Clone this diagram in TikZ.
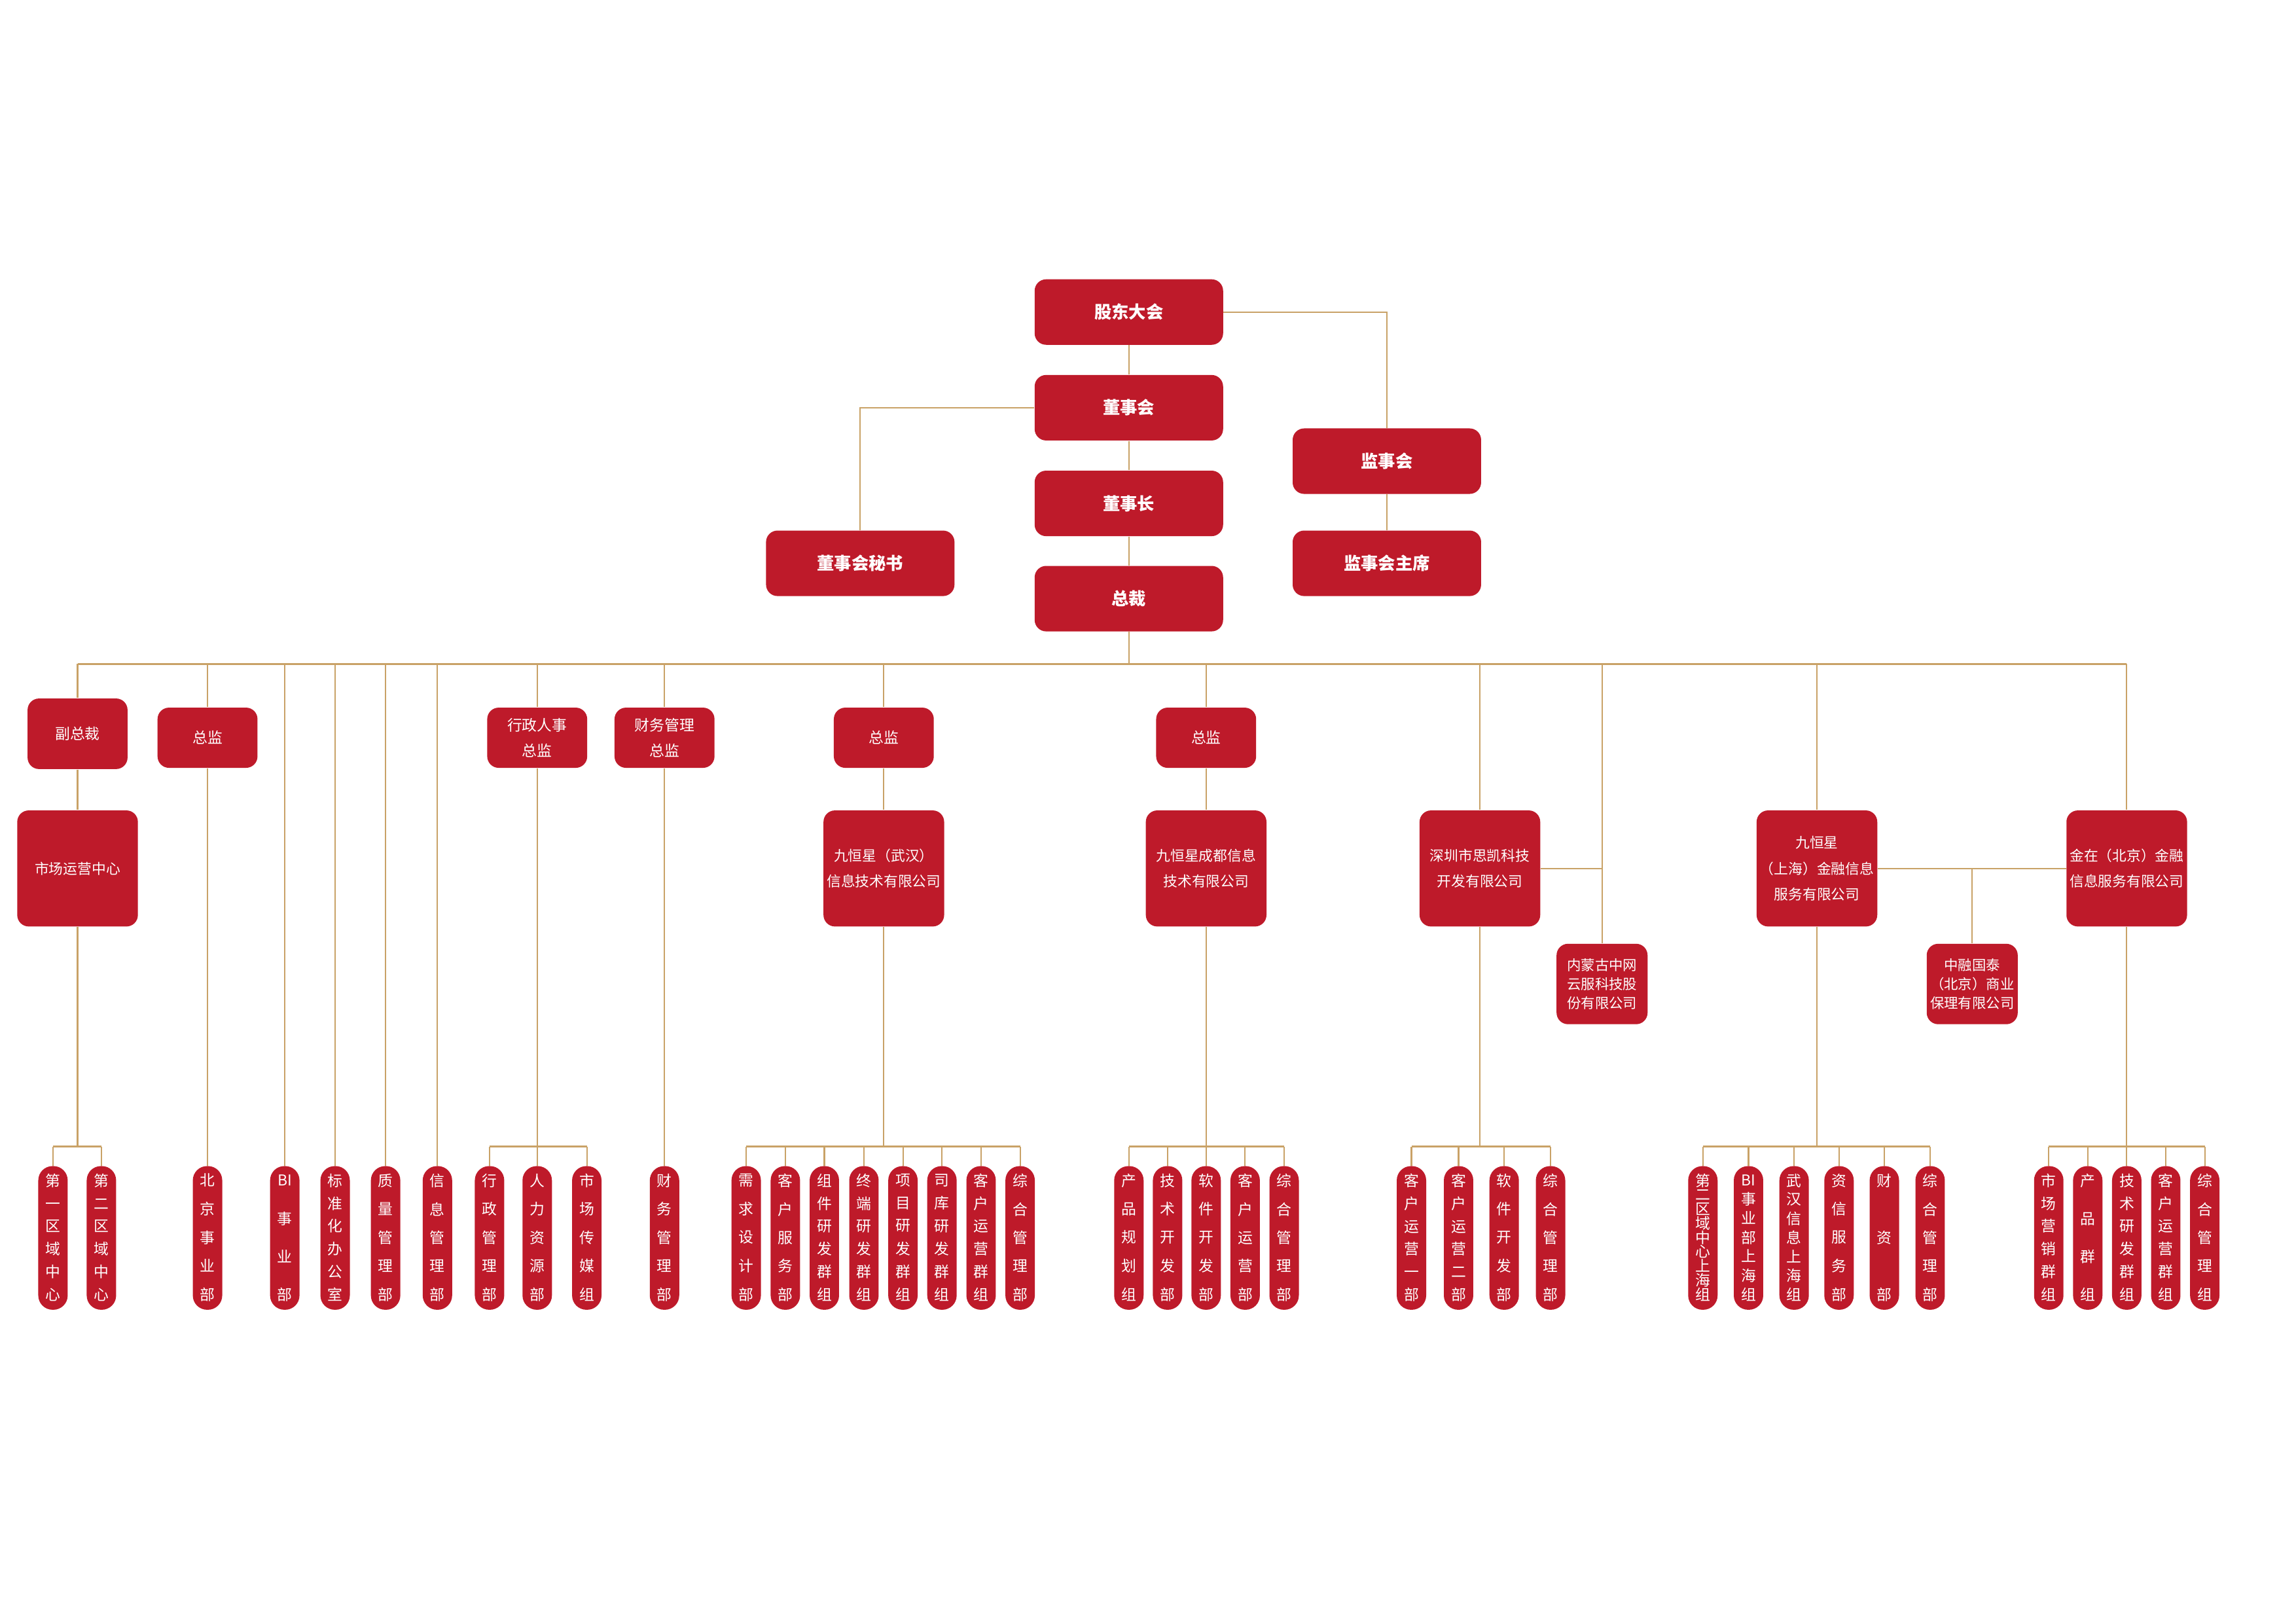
\documentclass[tikz,border=0pt]{standalone}
\usepackage{fontspec}
\setmainfont{Noto Sans CJK SC}
\definecolor{orgred}{HTML}{BE1A2A}
\definecolor{orgline}{HTML}{C9A267}
\newcommand\vtxt[1]{\vbox to 55pt{\offinterlineskip
    \foreach \zi [count=\idx] in {#1}{\ifnum\idx>1 \vfill\fi
      \hbox to 11pt{\hss\vrule width 0pt height 5.3pt depth 0.8pt\zi\hss}}}}
\tikzset{
    box/.style={rectangle,rounded corners=5pt,fill=orgred,text=white,inner sep=0pt,align=center},
    topbox/.style={box,minimum width=82pt,minimum height=28.5pt,font=\fontsize{7.5}{9}\selectfont\bfseries},
    midbox/.style={box,minimum width=43.5pt,minimum height=26.2pt,font=\fontsize{6.5}{11}\selectfont},
    cobox/.style={box,minimum width=52.5pt,minimum height=50.5pt,font=\fontsize{6.2}{11.3}\selectfont},
    smallbox/.style={box,minimum width=39.6pt,minimum height=35pt,font=\fontsize{6.1}{8.2}\selectfont},
    pill/.style={box,rounded corners=6.2pt,minimum width=12.8pt,minimum height=62.5pt,font=\fontsize{6.5}{7}\selectfont},
    link/.style={draw=orgline,line width=0.6pt},
    bar/.style={draw=orgline,line width=0.9pt},
}
\begin{document}
\begin{tikzpicture}[x=0.0225cm,y=-0.0225cm]
    \useasboundingbox (0,0) rectangle (1560,1103);
    \coordinate (bus) at (0,451);
    \coordinate (low) at (0,779);

    \node[topbox] (gd) at (767,212) {股东大会};
    \node[topbox] (dsh) at (767,277) {董事会};
    \node[topbox] (dsz) at (767,342) {董事长};
    \node[topbox] (zc) at (767,406.7) {总裁};
    \node[topbox] (jsh) at (942.3,313.3) {监事会};
    \node[topbox] (jszx) at (942.3,382.7) {监事会主席};
    \node[topbox] (mishu) at (584.5,382.7) {董事会秘书};

    \node[midbox,minimum height=30.7pt] (fzc) at (52.7,498.5) {副总裁};
    \node[midbox] (zj1) at (141,501.2) {总监};
    \node[midbox] (xzzj) at (365,501.2) {行政人事\\总监};
    \node[midbox] (cwzj) at (451.5,501.2) {财务管理\\总监};
    \node[midbox] (zj2) at (600.5,501.2) {总监};
    \node[midbox] (zj3) at (819.5,501.2) {总监};

    \node[cobox] (scyy) at (52.7,590) {市场运营中心};
    \node[cobox] (wh) at (600.5,590) {九恒星（武汉）\\信息技术有限公司};
    \node[cobox] (cd) at (819.5,590) {九恒星成都信息\\技术有限公司};
    \node[cobox] (sz) at (1005.5,590) {深圳市思凯科技\\开发有限公司};
    \node[cobox] (sh) at (1234.5,590) {九恒星\\（上海）金融信息\\服务有限公司};
    \node[cobox] (jz) at (1445,590) {金在（北京）金融\\信息服务有限公司};
    \node[smallbox] (nmg) at (1088.5,668.5) {内蒙古中网\\云服科技股\\份有限公司};
    \node[smallbox] (zr) at (1340,668.5) {中融国泰\\（北京）商业\\保理有限公司};

    \node[pill] (a1) at (36,841) {\vtxt{第,一,区,域,中,心}};
    \node[pill] (a2) at (68.9,841) {\vtxt{第,二,区,域,中,心}};
    \node[pill] (bj) at (141,841) {\vtxt{北,京,事,业,部}};
    \node[pill] (bi) at (193.5,841) {\vtxt{BI,事,业,部}};
    \node[pill] (bz) at (227.7,841) {\vtxt{标,准,化,办,公,室}};
    \node[pill] (zl) at (262,841) {\vtxt{质,量,管,理,部}};
    \node[pill] (xx) at (297.2,841) {\vtxt{信,息,管,理,部}};
    \node[pill] (x1) at (332.6,841) {\vtxt{行,政,管,理,部}};
    \node[pill] (x2) at (365,841) {\vtxt{人,力,资,源,部}};
    \node[pill] (x3) at (398.7,841) {\vtxt{市,场,传,媒,组}};
    \node[pill] (cwb) at (451.5,841) {\vtxt{财,务,管,理,部}};
    \node[pill] (w1) at (507,841) {\vtxt{需,求,设,计,部}};
    \node[pill] (w2) at (533.6,841) {\vtxt{客,户,服,务,部}};
    \node[pill] (w3) at (560.1,841) {\vtxt{组,件,研,发,群,组}};
    \node[pill] (w4) at (587,841) {\vtxt{终,端,研,发,群,组}};
    \node[pill] (w5) at (613.5,841) {\vtxt{项,目,研,发,群,组}};
    \node[pill] (w6) at (640,841) {\vtxt{司,库,研,发,群,组}};
    \node[pill] (w7) at (666.6,841) {\vtxt{客,户,运,营,群,组}};
    \node[pill] (w8) at (693.1,841) {\vtxt{综,合,管,理,部}};
    \node[pill] (c1) at (767,841) {\vtxt{产,品,规,划,组}};
    \node[pill] (c2) at (793.3,841) {\vtxt{技,术,开,发,部}};
    \node[pill] (c3) at (819.5,841) {\vtxt{软,件,开,发,部}};
    \node[pill] (c4) at (846,841) {\vtxt{客,户,运,营,部}};
    \node[pill] (c5) at (872.5,841) {\vtxt{综,合,管,理,部}};
    \node[pill] (s1) at (959,841) {\vtxt{客,户,运,营,一,部}};
    \node[pill] (s2) at (991,841) {\vtxt{客,户,运,营,二,部}};
    \node[pill] (s3) at (1022,841) {\vtxt{软,件,开,发,部}};
    \node[pill] (s4) at (1053.5,841) {\vtxt{综,合,管,理,部}};
    \node[pill] (h1) at (1157,841) {\vtxt{第,二,区,域,中,心,上,海,组}};
    \node[pill] (h2) at (1188,841) {\vtxt{BI,事,业,部,上,海,组}};
    \node[pill] (h3) at (1219,841) {\vtxt{武,汉,信,息,上,海,组}};
    \node[pill] (h4) at (1249.5,841) {\vtxt{资,信,服,务,部}};
    \node[pill] (h5) at (1280.3,841) {\vtxt{财,资,部}};
    \node[pill] (h6) at (1311.4,841) {\vtxt{综,合,管,理,部}};
    \node[pill] (j1) at (1392,841) {\vtxt{市,场,营,销,群,组}};
    \node[pill] (j2) at (1418.5,841) {\vtxt{产,品,群,组}};
    \node[pill] (j3) at (1445,841) {\vtxt{技,术,研,发,群,组}};
    \node[pill] (j4) at (1471.5,841) {\vtxt{客,户,运,营,群,组}};
    \node[pill] (j5) at (1498,841) {\vtxt{综,合,管,理,组}};

    \draw[link] (gd) -- (dsh) -- (dsz) -- (zc);
    \draw[link] (gd.east) -| (jsh);
    \draw[link] (dsh.west) -| (mishu);
    \draw[link] (jsh) -- (jszx);
    \draw[link] (zc) -- (zc |- bus);
    \draw[bar] (fzc |- bus) -- (jz |- bus);
    \foreach \n in {fzc,zj1,bi,bz,zl,xx,xzzj,cwzj,zj2,zj3,sz,nmg,sh,jz}
        \draw[link] (\n |- bus) -- (\n);
    \draw[link] (fzc) -- (scyy);
    \draw[link] (zj1) -- (bj);
    \draw[link] (cwzj) -- (cwb);
    \draw[link] (zj2) -- (wh);
    \draw[link] (zj3) -- (cd);
    \draw[link] (sz) -- (sz -| nmg);
    \draw[link] (sh) -- (jz);
    \draw[link] (zr |- sh) -- (zr);
    \foreach \p/\f/\l in {scyy/a1/a2,xzzj/x1/x3,wh/w1/w8,cd/c1/c5,sz/s1/s4,sh/h1/h6,jz/j1/j5}{
        \draw[link] (\p) -- (\p |- low);
        \draw[bar] (\f |- low) -- (\l |- low);
    }
    \foreach \n in {a1,a2,x1,x2,x3,w1,w2,w3,w4,w5,w6,w7,w8,c1,c2,c3,c4,c5,s1,s2,s3,s4,h1,h2,h3,h4,h5,h6,j1,j2,j3,j4,j5}
        \draw[link] (\n |- low) -- (\n);
\end{tikzpicture}
\end{document}
